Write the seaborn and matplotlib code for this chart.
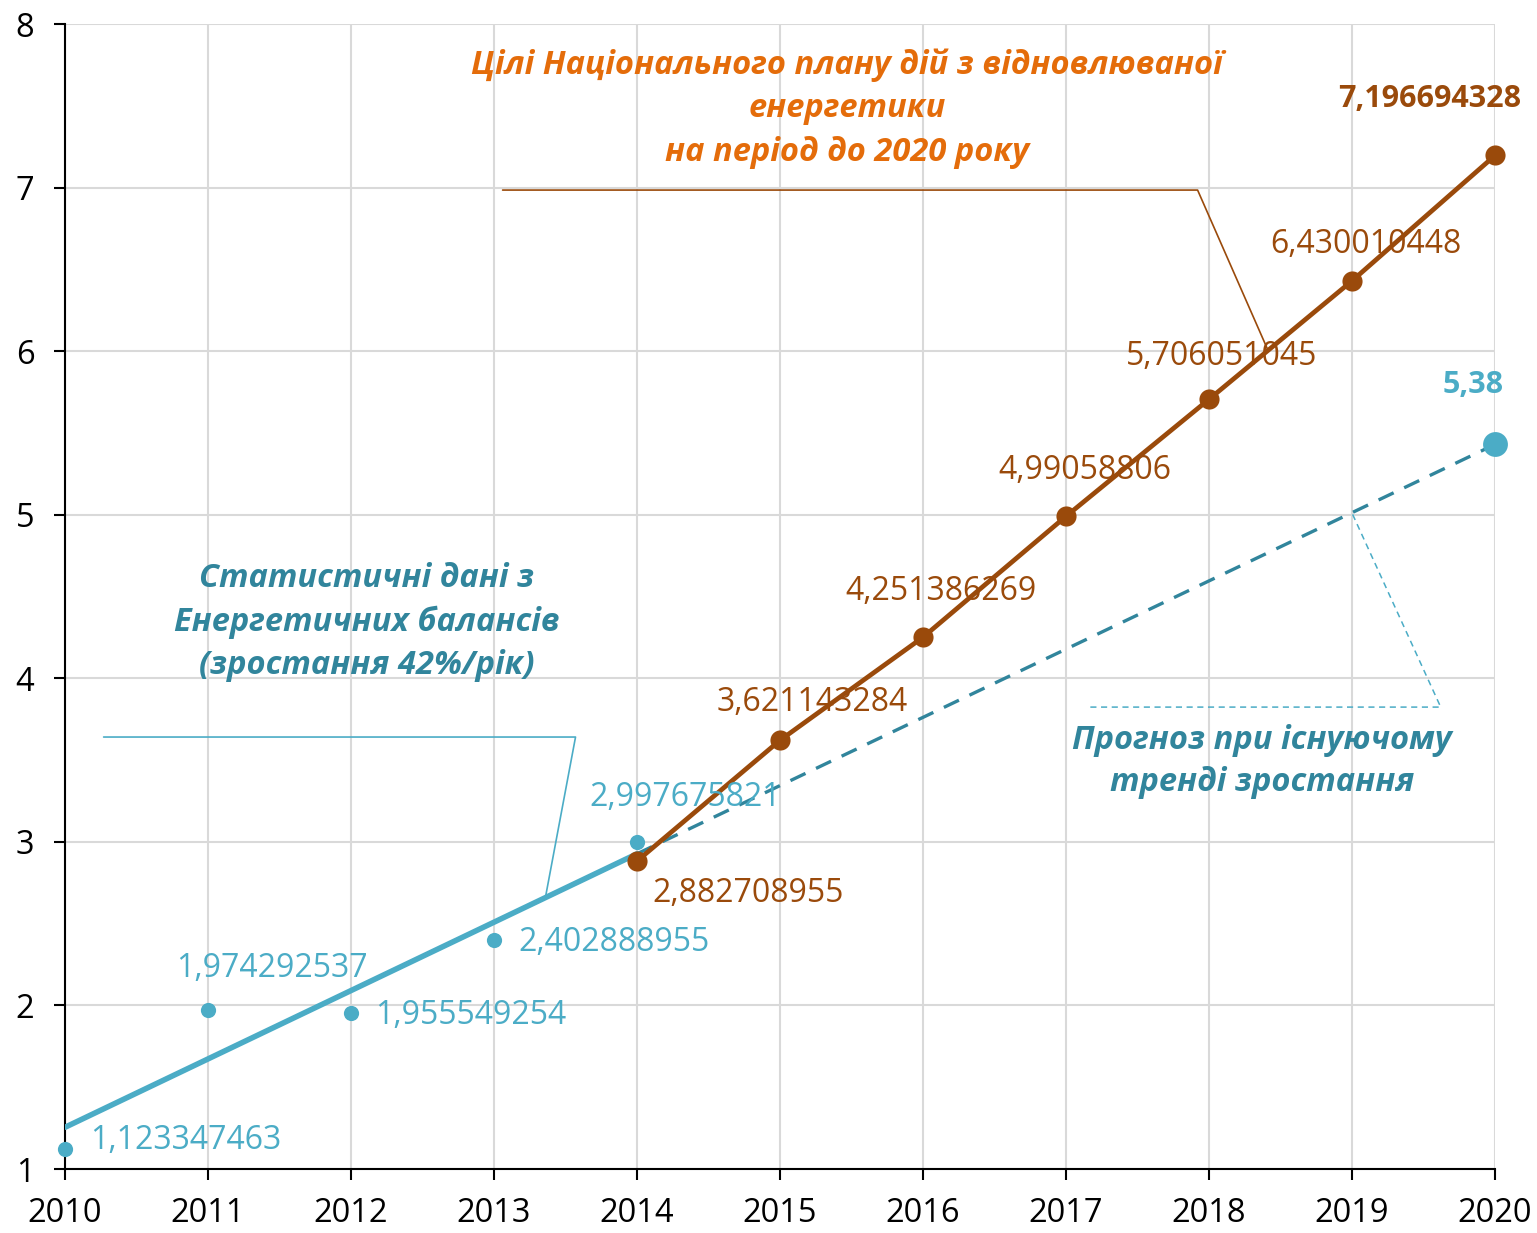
import pandas as pd
import seaborn as sns
import matplotlib.pyplot as plt

# data
stat_years = [2010, 2011, 2012, 2013, 2014]
stat_values = [1.123347463, 1.974292537, 1.955549254, 2.402888955, 2.997675821]
stat_labels = ["1,123347463", "1,974292537", "1,955549254", "2,402888955", "2,997675821"]

plan_years = [2014, 2015, 2016, 2017, 2018, 2019, 2020]
plan_values = [2.882708955, 3.621143284, 4.251386269, 4.99058806, 5.706051045, 6.430010448, 7.196694328]
plan_labels = ["2,882708955", "3,621143284", "4,251386269", "4,99058806", "5,706051045", "6,430010448", "7,196694328"]

trend_years = [2010, 2014]
trend_values = [1.255, 2.927]
forecast_years = [2014, 2020]
forecast_values = [2.927, 5.43]
forecast_label = "5,38"

# leader lines of the callouts (data coords)
plan_leader_x = [2013.06, 2017.92, 2018.41]
plan_leader_y = [6.985, 6.985, 6.01]
stat_leader_x = [2010.27, 2013.57, 2013.36]
stat_leader_y = [3.641, 3.641, 2.663]
fc_leader_x = [2017.17, 2019.62, 2019.0]
fc_leader_y = [3.824, 3.824, 5.01]

BROWN = "#9A4A0B"
ORANGE = "#E46C0A"
CYAN = "#4BACC6"
TEAL = "#31859C"

sns.set_theme(style="white")
plt.rcParams['font.family'] = ['Open Sans', 'DejaVu Sans']

fig = plt.figure(figsize=(15.37, 12.33), dpi=100)
ax = fig.add_axes([0.0423, 0.0519, 0.9304, 0.9286])

ax.grid(True, color="#D9D9D9", linewidth=1.5)
ax.set_axisbelow(True)

stat_df = pd.DataFrame({"year": stat_years, "value": stat_values})
plan_df = pd.DataFrame({"year": plan_years, "value": plan_values})
trend_df = pd.DataFrame({"year": trend_years, "value": trend_values})
fc_df = pd.DataFrame({"year": forecast_years, "value": forecast_values})

sns.lineplot(data=trend_df, x="year", y="value", ax=ax, color=CYAN, linewidth=4, zorder=3)
ax.plot(fc_df["year"], fc_df["value"], color=TEAL, linewidth=2.4, dashes=(5, 3.5), zorder=3.5)
sns.lineplot(data=plan_df, x="year", y="value", ax=ax, color=BROWN, linewidth=3.4,
             marker="o", markersize=14.5, markeredgewidth=0, zorder=4, clip_on=False)
sns.scatterplot(data=stat_df, x="year", y="value", ax=ax, color=CYAN, s=120, linewidth=0,
                zorder=5, clip_on=False)
ax.scatter([forecast_years[-1]], [forecast_values[-1]], color=CYAN, s=320, linewidth=0,
           zorder=5, clip_on=False)

# leader lines
ax.plot(plan_leader_x, plan_leader_y, color=BROWN, linewidth=1.2, zorder=2)
ax.plot(stat_leader_x, stat_leader_y, color=CYAN, linewidth=1.2, zorder=2)
ax.plot(fc_leader_x, fc_leader_y, color=CYAN, linewidth=1.1, dashes=(4, 3), zorder=2)

# data labels (pixel offsets from the point)
stat_off = [(25, 8, "left"), (64, 41, "center"), (24, -3, "left"), (24, -3, "left"), (48, 45, "center")]
for x, y, t, (dx, dy, ha) in zip(stat_years, stat_values, stat_labels, stat_off):
    ax.annotate(t, (x, y), xytext=(dx, dy), textcoords="offset pixels",
                ha=ha, va="center", color=CYAN, fontsize=23, zorder=6)

plan_off = [(15, -32, "left"), (32, 38, "center"), (18, 46, "center"), (19, 46, "center"),
            (13, 43, "center"), (14, 36, "center"), (-65, 56, "center")]
for i, (x, y, t, (dx, dy, ha)) in enumerate(zip(plan_years, plan_values, plan_labels, plan_off)):
    ax.annotate(t, (x, y), xytext=(dx, dy), textcoords="offset pixels", ha=ha, va="center",
                color=BROWN, fontsize=23 if i < len(plan_years) - 1 else 22,
                fontweight="bold" if i == len(plan_years) - 1 else "normal", zorder=6)

ax.annotate(forecast_label, (forecast_years[-1], forecast_values[-1]), xytext=(-22, 59),
            textcoords="offset pixels", ha="center", va="center", color=CYAN,
            fontsize=22, fontweight="bold", zorder=6)

# callout texts
ax.text(2015.47, 7.485, "Цілі Національного плану дій з відновлюваної\nенергетики\nна період до 2020 року",
        ha="center", va="center", color=ORANGE, fontsize=23.5, fontweight="bold", style="italic",
        linespacing=1.42)
ax.text(2012.11, 4.344, "Статистичні дані з\nЕнергетичних балансів\n(зростання 42%/рік)",
        ha="center", va="center", color=TEAL, fontsize=23.5, fontweight="bold", style="italic",
        linespacing=1.42)
ax.text(2018.37, 3.49, "Прогноз при існуючому\nтренді зростання",
        ha="center", va="center", color=TEAL, fontsize=23.5, fontweight="bold", style="italic",
        linespacing=1.35)

ax.set_xlim(2010, 2020)
ax.set_ylim(1, 8)
ax.set_xticks(range(2010, 2021))
ax.set_yticks(range(1, 9))
ax.set_xlabel("")
ax.set_ylabel("")
for s in ["top", "right"]:
    ax.spines[s].set_visible(False)
for s in ["left", "bottom"]:
    ax.spines[s].set_color("black")
    ax.spines[s].set_linewidth(1.5)
ax.tick_params(axis="both", direction="out", length=8, width=1.5, color="black",
               labelsize=23.5, labelcolor="black", bottom=True, left=True)
ax.tick_params(axis="x", pad=12)
ax.tick_params(axis="y", pad=14)

fig.savefig("out.png", dpi=100)
